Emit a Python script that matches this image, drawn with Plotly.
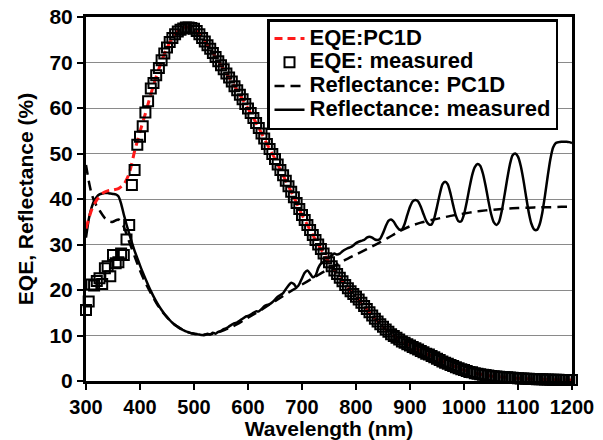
import plotly.graph_objects as go

# ---------------- data ----------------
wl_5nm = list(range(300, 1205, 5))

eqe_measured = [
    15.6, 17.5, 21.2, 21.0, 22.0, 22.6, 21.3, 24.8, 25.2, 23.0,
    27.7, 25.9, 26.1, 28.0, 27.7, 31.1, 34.3, 43.1, 46.4, 51.9,
    53.7, 56.0, 59.0, 61.5, 64.3, 65.5, 67.2, 68.8, 70.5, 72.0,
    73.3, 74.5, 75.4, 76.2, 76.8, 77.2, 77.5, 77.7, 77.7, 77.6,
    77.4, 76.9, 76.2, 75.4, 74.6, 73.8, 73.0, 72.1, 71.2, 70.3,
    69.4, 68.5, 67.6, 66.7, 65.8, 64.8, 63.9, 62.9, 61.9, 60.9,
    59.9, 58.9, 57.8, 56.7, 55.6, 54.4, 53.3, 52.1, 51.0, 49.9,
    48.8, 47.6, 46.4, 45.2, 44.0, 42.8, 41.6, 40.4, 39.1, 37.8,
    36.5, 35.4, 34.3, 33.2, 32.1, 31.0, 30.0, 29.0, 28.0, 27.0,
    26.1, 25.2, 24.3, 23.5, 22.7, 21.9, 21.1, 20.4, 19.7, 19.1,
    18.5, 17.9, 17.2, 16.5, 15.8, 15.1, 14.4, 13.7, 13.1, 12.5,
    11.9, 11.3, 10.8, 10.3, 9.9, 9.5, 9.1, 8.7, 8.4, 8.1,
    7.8, 7.5, 7.2, 6.9, 6.6, 6.3, 6.0, 5.8, 5.5, 5.2,
    4.9, 4.6, 4.3, 4.0, 3.8, 3.5, 3.3, 3.0, 2.8, 2.6,
    2.4, 2.2, 2.0, 1.9, 1.7, 1.6, 1.5, 1.4, 1.3, 1.2,
    1.1, 1.05, 1.0, 0.95, 0.9, 0.85, 0.8, 0.75, 0.7, 0.65,
    0.6, 0.57, 0.54, 0.51, 0.48, 0.45, 0.42, 0.40, 0.38, 0.36,
    0.34, 0.32, 0.30, 0.28, 0.26, 0.25, 0.24, 0.23, 0.22, 0.21,
    0.2,
]

refl_measured = [
    31.5, 35.5, 38.0, 39.6, 40.5, 41.0, 41.2, 41.3, 41.3, 41.2,
    41.1, 41.0, 40.6, 39.0, 36.6, 34.4, 32.4, 30.4, 28.6, 27.0,
    25.4, 23.9, 22.5, 21.1, 19.8, 18.6, 17.5, 16.5, 15.6, 14.8,
    14.1, 13.4, 12.8, 12.3, 11.9, 11.5, 11.2, 10.9, 10.7, 10.5,
    10.4, 10.3, 10.2, 10.1, 10.1, 10.4, 10.2, 10.6, 10.4, 10.8,
    11.0, 11.4, 11.6, 12.0, 12.4, 12.7, 12.9, 13.3, 13.7, 14.1,
    14.3, 14.6, 15.0, 15.3, 15.3, 15.8, 16.4, 16.7, 16.9, 17.3,
    17.9, 18.5, 18.9, 19.3, 20.2, 21.0, 21.6, 21.3, 20.6, 21.3,
    22.6, 23.8, 24.3, 23.6, 22.8, 23.2, 24.8, 25.8, 26.2, 26.5,
    27.0, 27.6, 28.0, 27.8, 28.0, 28.5, 28.9, 29.2, 29.4, 29.8,
    30.3, 30.6, 30.8, 31.0, 31.5, 31.7, 31.5, 31.1, 31.0, 31.3,
    32.5, 34.0, 35.2, 35.5, 35.0, 34.0, 33.3, 33.3, 34.5, 36.5,
    38.3, 39.5, 39.8, 39.5, 38.3, 36.7, 35.2, 34.4, 34.4, 35.8,
    38.3, 41.0, 43.2, 43.8, 43.2, 41.2, 38.6, 36.3, 35.1, 35.1,
    36.6, 39.3, 42.4, 45.2, 47.0, 47.7, 47.3, 45.6, 42.9, 39.7,
    36.8, 34.9, 34.3, 35.0, 37.4, 40.8, 44.4, 47.6, 49.6, 50.0,
    49.3, 47.3, 44.2, 40.5, 37.0, 34.5, 33.3, 33.2, 34.4, 37.0,
    40.8, 45.0, 48.8, 51.3, 52.3, 52.5, 52.6, 52.6, 52.6, 52.5,
    52.3,
]

wl_pc1d_eqe = list(range(300, 1210, 10))
eqe_pc1d = [
    33.5, 37.5, 39.8, 41.2, 41.8, 42.0, 42.3, 43.2, 45.6, 50.5,
    54.8, 58.8, 63.0, 66.9, 70.3, 73.2, 75.4, 76.9, 77.6, 77.8,
    77.4, 76.2, 74.6, 73.0, 71.2, 69.4, 67.6, 65.8, 63.9, 61.9,
    59.9, 57.8, 55.6, 53.3, 51.0, 48.8, 46.4, 44.0, 41.6, 39.1,
    36.5, 34.3, 32.1, 30.0, 28.0, 26.1, 24.3, 22.7, 21.1, 19.7,
    18.5, 17.2, 15.8, 14.4, 13.1, 11.9, 10.8, 9.9, 9.1, 8.4,
    7.8, 7.2, 6.6, 6.0, 5.5, 4.9, 4.3, 3.8, 3.3, 2.8,
    2.4, 2.0, 1.7, 1.5, 1.3, 1.1, 1.0, 0.9, 0.8, 0.7,
    0.6, 0.54, 0.48, 0.42, 0.38, 0.34, 0.30, 0.26, 0.24, 0.22,
    0.2,
]

wl_pc1d_refl = [300, 305, 310, 315, 320, 325, 330, 335, 340, 345, 350, 355,
                360, 365, 370, 375, 380, 385, 390, 400, 410, 420, 430, 440,
                450, 460, 470, 480, 490, 500, 510, 520, 530, 540, 550, 560,
                570, 580, 590, 600, 620, 640, 660, 680, 700, 720, 740, 760,
                780, 800, 820, 840, 860, 880, 900, 920, 940, 960, 980, 1000,
                1020, 1040, 1060, 1080, 1100, 1120, 1140, 1160, 1180, 1200]
refl_pc1d = [47.5, 44.0, 41.3, 39.6, 38.4, 37.5, 36.6, 35.8, 35.3, 35.0, 35.0, 35.3,
             35.5, 35.0, 33.9, 32.3, 30.6, 29.0, 27.4, 24.3, 21.6, 19.3, 17.2, 15.4,
             14.0, 12.8, 11.9, 11.2, 10.7, 10.4, 10.3, 10.2, 10.3, 10.5, 10.9, 11.4,
             11.9, 12.5, 13.2, 13.9, 15.3, 16.8, 18.3, 19.8, 21.2, 22.6, 24.0, 25.3,
             26.6, 27.8, 29.0, 30.2, 31.5, 32.9, 34.0, 34.8, 35.4, 35.9, 36.4, 36.8,
             37.2, 37.5, 37.7, 37.9, 38.0, 38.1, 38.2, 38.2, 38.3, 38.3]

x_ticks = [300, 400, 500, 600, 700, 800, 900, 1000, 1100, 1200]
y_ticks = [0, 10, 20, 30, 40, 50, 60, 70, 80]

assert len(wl_5nm) == len(eqe_measured) == len(refl_measured)
assert len(wl_pc1d_eqe) == len(eqe_pc1d)
assert len(wl_pc1d_refl) == len(refl_pc1d)

FONT = "Liberation Sans, Arial, sans-serif"

W, H = 603, 440
ML, MR, MT, MB = 86, 31, 17, 59
PW, PH = W - ML - MR, H - MT - MB


def lname(t):
    return "<span style='font-size:22px'>" + t + "</span>"


fig = go.Figure()

fig.add_trace(go.Scatter(
    x=wl_5nm, y=refl_measured, mode="lines", name=lname("Reflectance: measured"),
    line=dict(color="black", width=2.5, shape="spline", smoothing=0.6),
    legendrank=4, cliponaxis=False))

fig.add_trace(go.Scatter(
    x=wl_pc1d_refl, y=refl_pc1d, mode="lines", name=lname("Reflectance: PC1D"),
    line=dict(color="black", width=2.5, dash="10px,6px", shape="spline", smoothing=0.6),
    legendrank=3, cliponaxis=False))

fig.add_trace(go.Scatter(
    x=wl_pc1d_eqe, y=eqe_pc1d, mode="lines", name=lname("EQE:PC1D"),
    line=dict(color="#ff1a1a", width=3, dash="8px,5px", shape="spline", smoothing=0.6),
    legendrank=1, cliponaxis=False))

fig.add_trace(go.Scatter(
    x=wl_5nm, y=eqe_measured, mode="markers", name=lname("EQE: measured"),
    marker=dict(symbol="square-open", size=10, color="black", line=dict(width=2, color="black")),
    legendrank=2, cliponaxis=False))

fig.update_layout(
    width=W, height=H,
    margin=dict(l=ML, r=MR, t=MT, b=MB),
    paper_bgcolor="white", plot_bgcolor="white",
    font=dict(family=FONT, color="black", weight="bold"),
    showlegend=True,
    legend=dict(
        x=(267 - ML) / PW, y=(PH + MT - 19) / PH, xanchor="left", yanchor="top",
        bgcolor="white", bordercolor="black", borderwidth=2.5,
        font=dict(family=FONT, size=16, color="black", weight="bold"),
        traceorder="normal",
    ),
    xaxis=dict(
        range=[300, 1200], tickvals=x_ticks, ticktext=[str(v) for v in x_ticks],
        showgrid=False, zeroline=False,
        showline=True, linecolor="black", linewidth=3, mirror=True,
        ticks="outside", ticklen=6, tickwidth=2, tickcolor="black",
        tickfont=dict(family=FONT, size=20, color="black", weight="bold"),
        title=dict(text="Wavelength (nm)", standoff=4,
                   font=dict(family=FONT, size=21, color="black", weight="bold")),
        automargin=False,
    ),
    yaxis=dict(
        range=[0, 80], tickvals=y_ticks,
        showgrid=True, gridcolor="#8a8a8a", gridwidth=1.2, zeroline=False,
        showline=True, linecolor="black", linewidth=3, mirror=True,
        ticks="outside", ticklen=6, tickwidth=2, tickcolor="black",
        tickfont=dict(family=FONT, size=21, color="black", weight="bold"),
        title=dict(text="EQE, Reflectance (%)", standoff=11,
                   font=dict(family=FONT, size=21, color="black", weight="bold")),
        automargin=False,
    ),
)

# remove the browser's default 8px page margin so the 603x440 figure fills the window
fig.write_html("out.html",
               config={"displayModeBar": False},
               post_script="document.body.style.margin='0px';document.body.style.overflow='hidden';")
